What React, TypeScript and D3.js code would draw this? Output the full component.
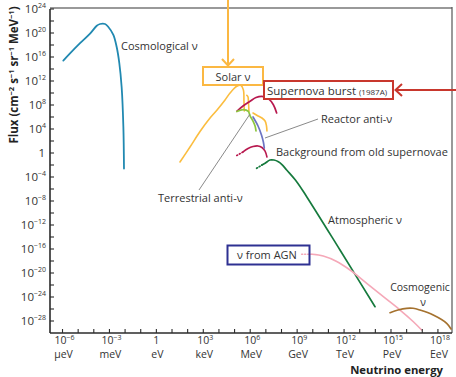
import React from "react";
import * as d3 from "d3";

// Spectra sampled as log10(E / eV) and log10(flux / cm^-2 s^-1 sr^-1 MeV^-1)
const cosmologicalLogE = [-5.95, -5.52, -4.88, -4.24, -3.81, -3.6, -3.28, -3.07, -2.75, -2.54, -2.37, -2.22, -2.11, -2.07];
const cosmologicalLogFlux = [15.4, 16.6, 18.3, 19.9, 21.2, 21.5, 21.5, 21.0, 19.7, 17.7, 15.0, 11.0, 4.4, -2.6];

const solarPpLogE = [1.51, 2.15, 2.79, 3.43, 3.88, 4.39, 4.71, 5.14, 5.39, 5.56, 5.6, 5.62];
const solarPpLogFlux = [-1.5, 1.0, 3.58, 5.83, 7.17, 8.83, 10.0, 11.12, 11.28, 10.55, 8.67, 7.0];
const solarLineLogE = [5.78, 5.86, 5.88, 5.92];
const solarLineLogFlux = [9.62, 9.33, 8.83, 6.95];
const solarBoronLogE = [6.18, 6.5, 6.75, 6.95, 7.04, 7.07];
const solarBoronLogFlux = [6.67, 6.17, 5.83, 5.33, 4.5, 3.67];

const terrestrialLogE = [5.14, 5.56, 5.88, 5.99, 6.18, 6.31, 6.37];
const terrestrialLogFlux = [6.92, 7.22, 6.95, 6.17, 5.33, 4.5, 3.67];

const supernovaLogE = [5.14, 5.54, 5.99, 6.37, 6.73, 6.95, 7.16, 7.48, 7.69];
const supernovaLogFlux = [6.95, 7.83, 8.62, 9.25, 9.45, 9.33, 9.05, 8.05, 6.67];

const reactorLogE = [6.18, 6.5, 6.72, 6.84, 6.9];
const reactorLogFlux = [6.0, 4.5, 3.0, 1.83, 0.83];

const relicLogE = [5.14, 5.54, 5.86, 6.18, 6.5, 6.75, 6.95, 7.07];
const relicLogFlux = [-0.42, 0.17, 0.75, 1.08, 1.17, 0.92, 0.33, -0.67];

const atmosphericLogE = [6.41, 6.75, 6.95, 7.26, 7.52, 7.8, 8.03, 8.33, 8.97, 9.61, 11.74, 13.98];
const atmosphericLogFlux = [-2.55, -2.0, -1.72, -1.17, -1.17, -1.45, -1.92, -2.83, -4.78, -7.28, -16.17, -25.62];

const agnLogE = [9.29, 9.95, 10.67, 11.53, 12.38, 13.45, 14.51, 15.58, 16.43, 16.96];
const agnLogFlux = [-16.88, -16.88, -17.17, -18.08, -19.5, -21.72, -23.95, -26.17, -28.12, -29.5];

const cosmogenicLogE = [14.94, 15.45, 16.0, 16.41, 16.85, 17.7, 18.56, 18.84];
const cosmogenicLogFlux = [-26.62, -26.17, -25.88, -25.88, -26.17, -27.0, -28.38, -29.33];

// Axis ticks
const xLabelExponents = [-6, -3, 0, 3, 6, 9, 12, 15, 18];
const xLabelUnits = ["μeV", "meV", "eV", "keV", "MeV", "GeV", "TeV", "PeV", "EeV"];
const yLabelExponents = [24, 20, 16, 12, 8, 4, 0, -4, -8, -12, -16, -20, -24, -28];

const FONT = "'Open Sans', 'Noto Sans', sans-serif";
const TEXT = "#333";

type Series = {
  logE: number[];
  logFlux: number[];
  color: string;
  width: number;
  dotted?: number; // number of leading points drawn dotted
};

const series: Series[] = [
  { logE: cosmologicalLogE, logFlux: cosmologicalLogFlux, color: "#2189b1", width: 1.8 },
  { logE: solarPpLogE, logFlux: solarPpLogFlux, color: "#fbbd3f", width: 1.6 },
  { logE: solarLineLogE, logFlux: solarLineLogFlux, color: "#fbbd3f", width: 1.6 },
  { logE: solarBoronLogE, logFlux: solarBoronLogFlux, color: "#fbbd3f", width: 1.6 },
  { logE: relicLogE, logFlux: relicLogFlux, color: "#b8194f", width: 1.6, dotted: 2 },
  { logE: atmosphericLogE, logFlux: atmosphericLogFlux, color: "#167a3d", width: 1.7, dotted: 2 },
  { logE: agnLogE, logFlux: agnLogFlux, color: "#f5a8b8", width: 1.6, dotted: 2 },
  { logE: cosmogenicLogE, logFlux: cosmogenicLogFlux, color: "#a5722f", width: 1.7 },
  { logE: supernovaLogE, logFlux: supernovaLogFlux, color: "#b8194f", width: 1.7 },
  { logE: terrestrialLogE, logFlux: terrestrialLogFlux, color: "#8dc63f", width: 1.7 },
  { logE: reactorLogE, logFlux: reactorLogFlux, color: "#6d74c2", width: 1.7 },
];

const left = 50;
const right = 452;
const top = 9;
const bottom = 333;

export default function App() {
  const x = d3.scaleLog().domain([Math.pow(10, -6.8), Math.pow(10, 18.9)]).range([left, right]);
  const y = d3.scaleLog().domain([1e-30, 1e24]).range([bottom, top]);

  const line = d3
    .line<[number, number]>()
    .x((d) => x(Math.pow(10, d[0])))
    .y((d) => y(Math.pow(10, d[1])))
    .curve(d3.curveCatmullRom.alpha(0.5));

  const pts = (s: Series): [number, number][] => s.logE.map((e, i) => [e, s.logFlux[i]]);

  const xMinor = d3.range(-6, 19);
  const yMinor = d3.range(24, -29, -2);

  return (
    <svg width={456} height={377} style={{ position: "absolute", left: 0, top: 0, background: "#fff" }} fontFamily={FONT}>
      <defs>
        <clipPath id="plot">
          <rect x={left} y={top} width={right - left} height={bottom - top} />
        </clipPath>
      </defs>

      {/* frame */}
      <line x1={left} x2={right} y1={top - 1} y2={top - 1} stroke="#999" strokeWidth={2} />
      <line x1={right} x2={right} y1={top - 2} y2={bottom} stroke="#555" strokeWidth={1.2} />

      {/* spectra */}
      <g clipPath="url(#plot)" fill="none" strokeLinecap="round">
        {series.map((s, i) => {
          const p = pts(s);
          const k = s.dotted ?? 0;
          return (
            <g key={i}>
              {k > 0 && (
                <path d={line(p.slice(0, k)) ?? ""} stroke={s.color} strokeWidth={s.width} strokeDasharray="1 2" />
              )}
              <path d={line(p.slice(Math.max(0, k - 1))) ?? ""} stroke={s.color} strokeWidth={s.width} />
            </g>
          );
        })}
      </g>

      {/* axes */}
      <line x1={left} x2={left} y1={top} y2={bottom} stroke="#2b2b2b" strokeWidth={1.6} />
      <line x1={left} x2={right} y1={bottom} y2={bottom} stroke="#2b2b2b" strokeWidth={1.6} />
      {yMinor.map((e) => (
        <line key={"yt" + e} x1={left} x2={left + 4} y1={y(Math.pow(10, e))} y2={y(Math.pow(10, e))} stroke="#2b2b2b" strokeWidth={1.1} />
      ))}
      {xMinor.map((e) => (
        <line key={"xt" + e} x1={x(Math.pow(10, e))} x2={x(Math.pow(10, e))} y1={bottom} y2={bottom - 4} stroke="#2b2b2b" strokeWidth={1.1} />
      ))}

      {/* y tick labels */}
      {yLabelExponents.map((e) => {
        const yy = y(Math.pow(10, e)) + 4;
        return e === 0 ? (
          <text key={"yl" + e} x={left - 5} y={yy} textAnchor="end" fontSize={11.5} fill={TEXT}>1</text>
        ) : (
          <text key={"yl" + e} x={left - 4} y={yy} textAnchor="end" fontSize={11.5} fill={TEXT}>
            10<tspan fontSize={7} dy={-5}>{e < 0 ? "−" + -e : e}</tspan>
          </text>
        );
      })}

      {/* x tick labels: power of ten over its unit */}
      {xLabelExponents.map((e, i) => {
        const xx = x(Math.pow(10, e));
        return (
          <text key={"xl" + e} textAnchor="middle" fontSize={10.5} fill={TEXT}>
            {e === 0 ? (
              <tspan x={xx} y={344}>1</tspan>
            ) : (
              <>
                <tspan x={xx + 2} y={344}>10</tspan>
                <tspan fontSize={7} dy={-4.5}>{e < 0 ? "−" + -e : e}</tspan>
              </>
            )}
            <tspan x={xx + 1} y={358.4}>{xLabelUnits[i]}</tspan>
          </text>
        );
      })}

      {/* axis titles */}
      <text x={443} y={373.6} textAnchor="end" fontSize={11.3} fontWeight="bold" fill="#222">Neutrino energy</text>
      <text transform="translate(18,75) rotate(-90)" textAnchor="middle" fontSize={11.5} fontWeight="bold" fill="#222">
        Flux (cm<tspan fontSize={7.5} dy={-4.5}>−2</tspan>
        <tspan dy={4.5}> s</tspan><tspan fontSize={7.5} dy={-4.5}>−1</tspan>
        <tspan dy={4.5}> sr</tspan><tspan fontSize={7.5} dy={-4.5}>−1</tspan>
        <tspan dy={4.5}> MeV</tspan><tspan fontSize={7.5} dy={-4.5}>−1</tspan>
        <tspan dy={4.5}>)</tspan>
      </text>

      {/* annotations */}
      <g fontSize={11} fill={TEXT}>
        <text x={121} y={50}>Cosmological ν</text>
        <text x={321} y={123}>Reactor anti-ν</text>
        <text x={276} y={156}>Background from old supernovae</text>
        <text x={158} y={202}>Terrestrial anti-ν</text>
        <text x={328} y={224}>Atmospheric ν</text>
        <text textAnchor="middle" fontSize={10.5}>
          <tspan x={420} y={291}>Cosmogenic</tspan>
          <tspan x={423} y={305.5}>ν</tspan>
        </text>
      </g>
      <g stroke="#8a8a8a" strokeWidth={1}>
        <line x1={265} y1={138} x2={318} y2={119} />
        <line x1={199} y1={190} x2={250} y2={114} />
      </g>

      {/* Solar box and arrow */}
      <line x1={228} x2={228} y1={0} y2={65} stroke="#fbb843" strokeWidth={2} />
      <polyline points="222,59 228,65.5 234,59" fill="none" stroke="#fbb843" strokeWidth={2} />
      <rect x={203} y={67} width={60} height={18} fill="#fff" stroke="#fbb843" strokeWidth={2} />
      <text x={233} y={80.5} textAnchor="middle" fontSize={11} fill={TEXT}>Solar ν</text>

      {/* Supernova box and arrow */}
      <line x1={396} x2={460} y1={90} y2={90} stroke="#c8372d" strokeWidth={2} />
      <polyline points="402,84 395.5,90 402,96" fill="none" stroke="#c8372d" strokeWidth={2} />
      <rect x={264} y={81} width={129} height={18} fill="#fff" stroke="#c8372d" strokeWidth={2} />
      <text x={267} y={94.5} fontSize={11.5} fill={TEXT}>
        Supernova burst <tspan fontSize={8}>(1987A)</tspan>
      </text>

      {/* AGN box */}
      <rect x={227.5} y={245.5} width={82} height={19} fill="none" stroke="#2e3192" strokeWidth={2} />
      <text x={237} y={259} fontSize={11} fill={TEXT}>ν from AGN</text>
    </svg>
  );
}
